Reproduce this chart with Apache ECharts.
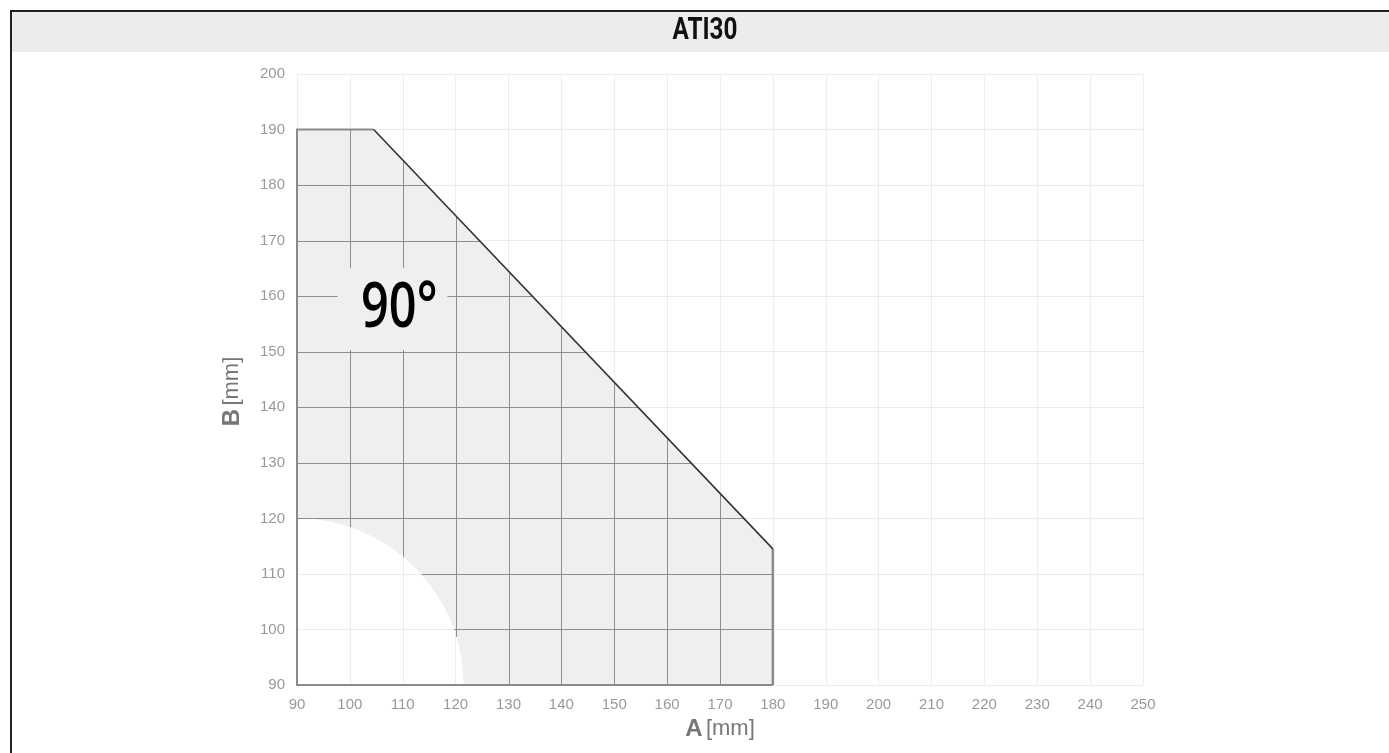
<!DOCTYPE html>
<html>
<head>
<meta charset="utf-8">
<script src="https://cdn.jsdelivr.net/npm/echarts@6/dist/echarts.min.js"></script>
<style>
html,body{margin:0;padding:0;background:#fff;}
#chart{width:1389px;height:753px;}
</style>
</head>
<body>
<div id="chart"></div>
<script>
// ---- data ----
var title = 'ATI30';
var xMin = 90, xMax = 250, yMin = 90, yMax = 200, step = 10;
// working area outline (A, B in mm), clockwise from top-left
var regionA = [90, 104.5, 180, 180];
var regionB = [190, 190, 114.5, 90];
// excluded quarter circle at the origin corner
var arcCenterA = 90, arcCenterB = 90, arcRadiusB = 30;
// grid ticks drawn darker inside the area
var innerA = [100, 110, 120, 130, 140, 150, 160, 170];
var innerB = [100, 110, 120, 130, 140, 150, 160, 170, 180];
// angle label
var angleText = '90°';
var angleA = 108.05, angleB = 157.7;

var chart = echarts.init(document.getElementById('chart'), null, {renderer: 'canvas'});

function renderArea(params, api) {
  var pts = [];
  for (var i = 0; i < regionA.length; i++) pts.push(api.coord([regionA[i], regionB[i]]));
  var c = api.coord([arcCenterA, arcCenterB]);
  var R = c[1] - api.coord([arcCenterA, arcCenterB + arcRadiusB])[1];
  var d = 'M' + c[0] + ' ' + pts[0][1];
  for (var k = 1; k < pts.length; k++) d += ' L' + pts[k][0] + ' ' + pts[k][1];
  d += ' L' + (c[0] + R) + ' ' + c[1];
  d += ' A' + R + ' ' + R + ' 0 0 0 ' + c[0] + ' ' + (c[1] - R);
  d += ' Z';
  var children = [];
  children.push({type: 'path', shape: {pathData: d}, style: {fill: '#efefef', stroke: null}});

  function topY(px) {
    for (var j = 0; j < pts.length - 1; j++) {
      var a = pts[j], b = pts[j + 1];
      if (px >= Math.min(a[0], b[0]) && px <= Math.max(a[0], b[0]) && a[0] !== b[0]) {
        return a[1] + (b[1] - a[1]) * (px - a[0]) / (b[0] - a[0]);
      }
    }
    return pts[0][1];
  }
  function rightX(py) {
    for (var j = 0; j < pts.length - 1; j++) {
      var a = pts[j], b = pts[j + 1];
      if (py >= Math.min(a[1], b[1]) && py <= Math.max(a[1], b[1]) && a[1] !== b[1]) {
        return a[0] + (b[0] - a[0]) * (py - a[1]) / (b[1] - a[1]);
      }
    }
    return pts[pts.length - 1][0];
  }
  var lineStyle = {stroke: '#8e8e8e', lineWidth: 1};
  innerA.forEach(function (v) {
    var px = Math.round(api.coord([v, yMin])[0]) + 0.5;
    var dx = px - c[0];
    var low = dx < R ? c[1] - Math.sqrt(R * R - dx * dx) : c[1];
    children.push({type: 'line', shape: {x1: px, y1: low, x2: px, y2: topY(px)}, style: lineStyle});
  });
  innerB.forEach(function (v) {
    var py = Math.round(api.coord([xMin, v])[1]) + 0.5;
    var dy = c[1] - py;
    var left = (R - dy) > 1.5 ? c[0] + Math.sqrt(R * R - dy * dy) : c[0];
    children.push({type: 'line', shape: {x1: left, y1: py, x2: rightX(py), y2: py}, style: lineStyle});
  });
  var grey = {stroke: '#8a8a8a', lineWidth: 2, fill: null};
  children.push({type: 'polyline', shape: {points: [[pts[3][0], c[1]], [c[0], c[1]], [c[0], pts[0][1]], pts[1]]}, style: grey});
  children.push({type: 'line', shape: {x1: pts[2][0], y1: pts[2][1], x2: pts[3][0], y2: pts[3][1]}, style: {stroke: '#8a8a8a', lineWidth: 2.5}});
  children.push({type: 'line', shape: {x1: pts[1][0], y1: pts[1][1], x2: pts[2][0], y2: pts[2][1]}, style: {stroke: '#333', lineWidth: 1.6}});
  var lp = api.coord([angleA, angleB]);
  children.push({
    type: 'text', x: lp[0], y: lp[1], scaleX: 0.76,
    style: {
      text: angleText, align: 'center', verticalAlign: 'middle',
      fill: '#000', font: '600 64px "Open Sans"',
      backgroundColor: '#efefef', padding: [12, 13, 6, 31]
    }
  });
  return {type: 'group', children: children};
}

var nameRich = {
  b: {fontFamily: 'Liberation Sans', fontWeight: 'bold', fontSize: 24, color: '#777'},
  r: {fontFamily: 'Liberation Sans', fontSize: 22, color: '#777'}
};

var option = {
  animation: false,
  backgroundColor: '#fff',
  graphic: [
    {type: 'rect', shape: {x: 11, y: 11, width: 1378, height: 41}, style: {fill: '#ececec'}, z: 0},
    {type: 'line', shape: {x1: 10, y1: 11, x2: 1389, y2: 11}, style: {stroke: '#222', lineWidth: 2}},
    {type: 'line', shape: {x1: 11, y1: 10, x2: 11, y2: 753}, style: {stroke: '#222', lineWidth: 2}},
    {type: 'text', x: 705, y: 31, scaleX: 0.76,
      style: {text: title, align: 'center', verticalAlign: 'middle', fill: '#111', font: 'bold 32px Roboto'}}
  ],
  grid: {left: 297, right: 246, top: 74, bottom: 68, outerBoundsMode: 'none'},
  xAxis: {
    type: 'value', min: xMin, max: xMax, interval: step,
    name: '{b|A} {r|[mm]}', nameLocation: 'middle', nameGap: 31,
    nameTextStyle: {rich: nameRich},
    axisLine: {show: false}, axisTick: {show: false},
    axisLabel: {color: '#999', fontFamily: 'Liberation Sans', fontSize: 15, margin: 12},
    splitLine: {show: true, lineStyle: {color: '#ececec', width: 1}}
  },
  yAxis: {
    type: 'value', min: yMin, max: yMax, interval: step,
    name: '{b|B} {r|[mm]}', nameLocation: 'middle', nameGap: 53,
    nameTextStyle: {padding: [0, 24, 0, 0], rich: nameRich},
    axisLine: {show: false}, axisTick: {show: false},
    axisLabel: {color: '#999', fontFamily: 'Liberation Sans', fontSize: 15, margin: 12},
    splitLine: {show: true, lineStyle: {color: '#ececec', width: 1}}
  },
  series: [{
    type: 'custom',
    coordinateSystem: 'cartesian2d',
    data: [[regionA[0], regionB[0]]],
    renderItem: renderArea,
    clip: false,
    silent: true
  }]
};
chart.setOption(option);
</script>
</body>
</html>
